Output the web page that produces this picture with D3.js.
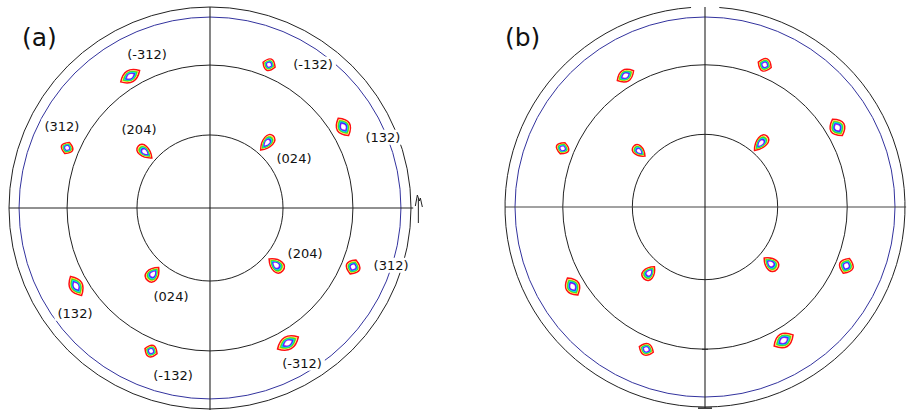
<!DOCTYPE html>
<html><head><meta charset="utf-8">
<script src="https://cdn.jsdelivr.net/npm/d3@7"></script>
<style>
body{margin:0;background:#fff}
svg{display:block}
text{font-family:"DejaVu Sans",sans-serif;fill:#111}
</style>
</head><body>
<svg id="c" width="907" height="417"></svg>
<script>
// ---------- data ----------
const panelNames = ["(a)", "(b)"];
const ringTilts = [32.7, 64.0, 90];      // black tilt circles (deg)
const rimTilt = 85.5;                     // blue circle (deg)
const hklLabels = ["(-312)","(-132)","(132)","(024)","(204)","(312)","(132)","(024)","(-132)","(-312)","(204)","(312)"];
const spotAzimuthA = [121.2, 67.6, 31.3, 48.8, 139.3, 157.2, 210.2, 229.2, 247.6, 300.0, 319.2, 337.6];
const spotTiltA    = [69.0, 69.4, 69.9, 38.7, 38.4, 69.4, 69.4, 39.0, 69.3, 69.8, 39.0, 69.3];
const spotAzimuthB = [121.2, 67.2, 31.0, 48.8, 139.7, 157.6, 211.0, 229.7, 247.6, 300.5, 319.2, 337.4];
const spotTiltB    = [69.1, 69.4, 69.5, 38.1, 38.8, 69.3, 69.5, 38.8, 69.3, 69.7, 39.0, 68.9];
const labelAzimuthA = [112.2, 54.4, 22.3, 30.8, 131.9, 151.0, 217.9, 246.1, 257.5, 300.7, 334.7, 342.5];
const labelTiltA    = [74.5, 79.3, 83.7, 43.8, 47.6, 75.8, 76.6, 43.1, 76.6, 80.7, 47.1, 85.0];
// peak family: outer ring {312}/{132} or inner ring {204}/{024}
const spotFamily = ["o","o","o","i","i","o","o","i","o","o","i","o"];

// ---------- styles ----------
const spotSizeA = [[22,12],[13,12],[20,14],[19,12],[18,12],[12,12],[22,13],[17,14],[13,12],[24,13],[18,14],[15,14]];
const spotSizeB = [[19,12],[14,13],[19,15],[19,12],[15,11],[12,13],[20,14],[16,13],[15,12],[22,14],[17,14],[16,14]];
const contourLayers = [
  {s:1.00, fill:"#ffffff", stroke:"#ff1010", sw:1.5},
  {s:0.86, fill:"#e6e000"},
  {s:0.77, fill:"#30d830"},
  {s:0.66, fill:"#10e0e0"},
  {s:0.53, fill:"#2828ff"},
  {s:0.44, fill:"#b020ff"},
  {s:0.34, fill:"#ffffff"}
];

const svg = d3.select("#c");
svg.append("rect").attr("width",907).attr("height",417).attr("fill","#fff");

const panels = [
  {name: panelNames[0], cx: 210, cy: 208, R: 201, az: spotAzimuthA, tilt: spotTiltA, size: spotSizeA, labels: true},
  {name: panelNames[1], cx: 705, cy: 207, R: 200, az: spotAzimuthB, tilt: spotTiltB, size: spotSizeB, labels: false}
];

function lens(a, w){ return `M${-a},0 Q0,${-w} ${a},0 Q0,${w} ${-a},0Z`; }
function drop(a, w){ return `M${-a},0 C${-a*0.2},${-w*0.75} ${a},${-w*0.8} ${a},0 C${a},${w*0.8} ${-a*0.2},${w*0.75} ${-a},0Z`; }

panels.forEach((p, pi) => {
  const g = svg.append("g");
  const r = d3.scaleLinear().domain([0, 90]).range([0, p.R]);
  const x = d3.scaleLinear().domain([-90, 90]).range([p.cx - p.R, p.cx + p.R]);
  const y = d3.scaleLinear().domain([-90, 90]).range([p.cy + p.R, p.cy - p.R]);
  const pos = (az, t) => [p.cx + r(t) * Math.cos(az * Math.PI/180), p.cy - r(t) * Math.sin(az * Math.PI/180)];

  // circles
  ringTilts.forEach((t) => {
    if (pi === 1 && t === 90) {
      const pth = d3.path();
      const a0 = (-90 + 4.1) * Math.PI/180, a1 = (270 - 4.0) * Math.PI/180;
      pth.moveTo(p.cx + r(t)*Math.cos(a0), p.cy + r(t)*Math.sin(a0));
      pth.arc(p.cx, p.cy, r(t), a0, a1, false);
      g.append("path").attr("d", pth.toString())
        .attr("fill","none").attr("stroke","#222").attr("stroke-width",1);
    } else {
      g.append("circle").attr("cx", p.cx).attr("cy", p.cy).attr("r", r(t))
        .attr("fill","none").attr("stroke","#222").attr("stroke-width",1);
    }
  });
  g.append("circle").attr("cx", p.cx).attr("cy", p.cy).attr("r", r(rimTilt))
    .attr("fill","none").attr("stroke","#33339e").attr("stroke-width",1);

  // axes
  g.append("line").attr("x1", x(-90)).attr("x2", x(pi===0 ? 91 : 90.5))
    .attr("y1", p.cy).attr("y2", p.cy).attr("stroke", pi===0 ? "#222" : "#444").attr("stroke-width",1);
  g.append("line").attr("x1", p.cx).attr("x2", p.cx)
    .attr("y1", y(90)).attr("y2", y(-90.5)).attr("stroke","#222").attr("stroke-width",1.1);
  if (pi === 1) {
    g.append("line").attr("x1", p.cx-7).attr("x2", p.cx+7).attr("y1", y(-90.5)).attr("y2", y(-90.5))
      .attr("stroke","#222").attr("stroke-width",1.5);
    g.append("line").attr("x1", p.cx-3).attr("x2", p.cx+3).attr("y1", p.cy + r(ringTilts[1])).attr("y2", p.cy + r(ringTilts[1]))
      .attr("stroke","#222").attr("stroke-width",1);
  } else {
    // small marker at right end of horizontal axis
    const mx = x(91.5), my = p.cy;
    g.append("path")
      .attr("d", `M${mx+1},${my-2} L${mx+3},${my-13} L${mx+5},${my-7} L${mx+6},${my-10} L${mx+8},${my-1} M${mx+4},${my-9} L${mx+4},${my+15}`)
      .attr("fill","none").attr("stroke","#222").attr("stroke-width",1);
  }

  // spots
  p.az.forEach((az, i) => {
    const [sx, sy] = pos(az, p.tilt[i]);
    const inner = spotFamily[i] === "i";
    const rot = inner ? -az : -az + 90;
    const [L, W] = p.size[i];
    const sg = g.append("g").attr("transform", `translate(${sx},${sy}) rotate(${rot})`);
    contourLayers.forEach(l => {
      const a = L/2 * l.s, w = W * l.s;
      sg.append("path").attr("d", inner ? drop(a, w*0.75) : lens(a, w))
        .attr("fill", l.fill)
        .attr("stroke", l.stroke || "none")
        .attr("stroke-width", l.sw || 0);
    });
  });

  // labels
  if (p.labels) {
    hklLabels.forEach((lab, i) => {
      const [lx, ly] = pos(labelAzimuthA[i], labelTiltA[i]);
      const lg = g.append("g");
      const t = lg.append("text").attr("x", lx).attr("y", ly).attr("dy", "0.36em")
        .attr("text-anchor","middle").attr("font-size", 13).text(lab);
      const bb = t.node().getBBox();
      lg.insert("rect", "text").attr("x", bb.x - 3).attr("y", bb.y).attr("width", bb.width + 6)
        .attr("height", bb.height).attr("fill", "#fff");
    });
  }

  // panel letter
  svg.append("text").attr("x", pi===0 ? 22 : 505).attr("y", 46).attr("font-size", 25).text(p.name);
});
</script>
</body></html>
